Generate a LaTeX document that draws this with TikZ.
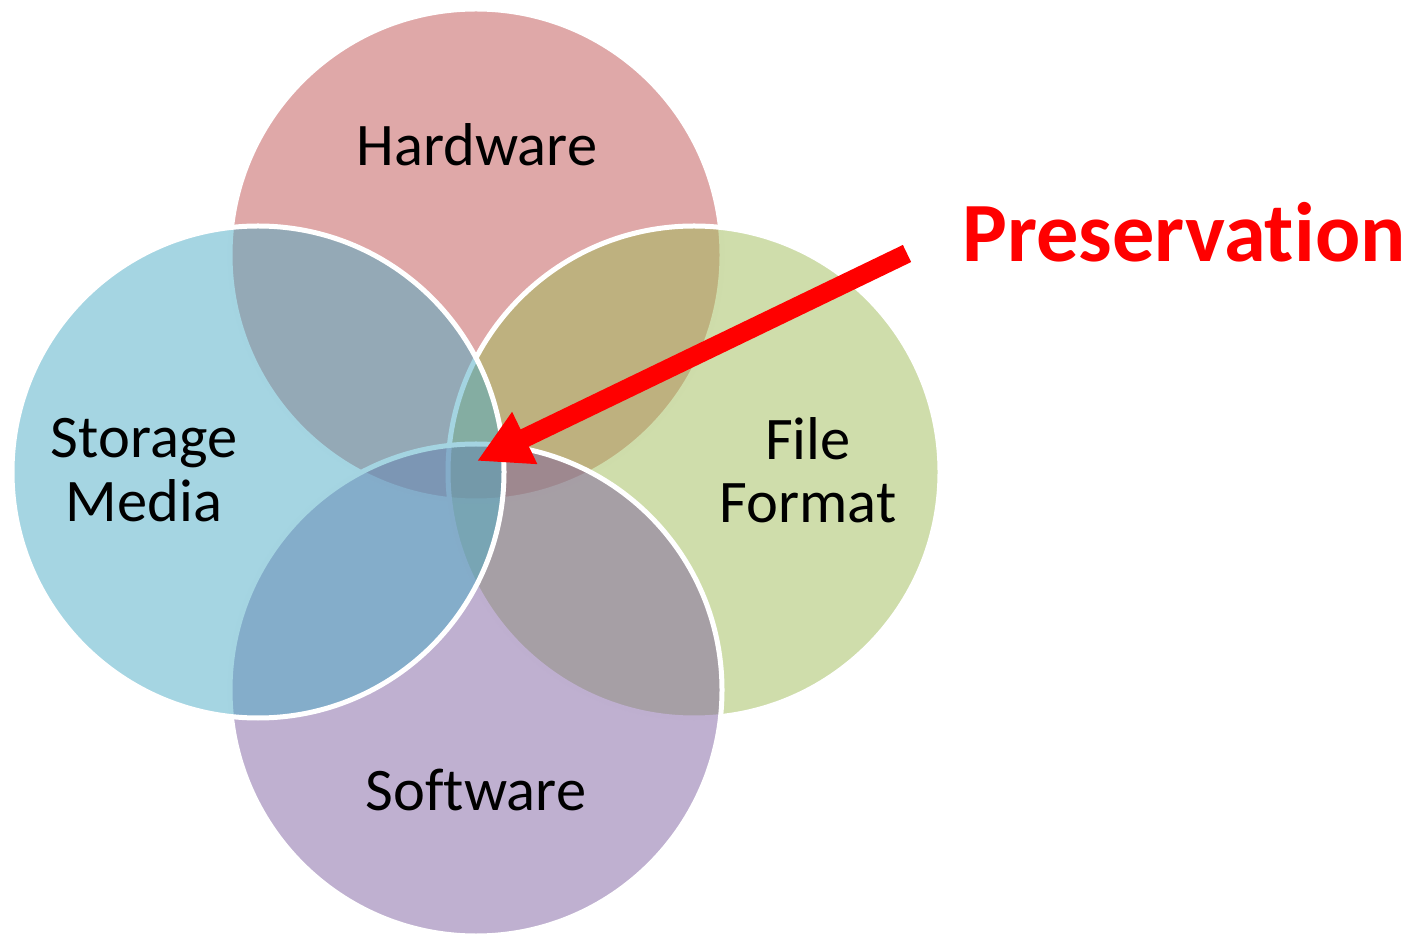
\documentclass[tikz,border=0pt]{standalone}
\usepackage{fontspec}
\setmainfont[Ligatures=NoCommon]{Carlito}
\usepackage{tikz}
\usetikzlibrary{arrows.meta}

\definecolor{hwred}{RGB}{191,81,81}
\definecolor{smblue}{RGB}{75,171,197}
\definecolor{ffgreen}{RGB}{159,187,87}
\definecolor{swpurple}{RGB}{127,97,161}

\tikzset{
  petal/.style={circle,inner sep=0pt,minimum size=9.84cm,draw=white,line width=0.1cm,fill opacity=0.5},
  petallabel/.style={font=\fontsize{34.4}{36}\selectfont,align=center,text=black},
}

\begin{document}
\begin{tikzpicture}
    \useasboundingbox (0,0) rectangle (28.26,18.7);
    % Circles, back to front
    \node[petal,fill=hwred] (hw) at (9.52,13.6) {};
    \node[petal,fill=ffgreen] (ff) at (13.88,9.26) {};
    \node[petal,fill=swpurple] (sw) at (9.52,4.9) {};
    \node[petal,fill=smblue] (sm) at (5.16,9.26) {};
    % Labels
    \node[petallabel,anchor=base] (hwtext) at (9.54,15.38) {Hardware};
    \node[petallabel] (smtext) at (2.88,9.3) {Storage\\Media};
    \node[petallabel] (fftext) at (16.16,9.3) {File\\Format};
    \node[petallabel,anchor=base] (swtext) at (9.52,2.5) {Software};
    \node[anchor=base,text=red,font=\bfseries\fontsize{48}{50}\selectfont] (pres) at (23.68,13.46) {Preservation};
    % Arrow into the common core
    \coordinate (tail) at (18.14,13.63);
    \coordinate (core) at (9.54,9.48);
    \draw[-{Triangle[length=1.06cm,width=1.08cm]},red,line width=0.38cm] (tail) -- (core);
  \end{tikzpicture}
\end{document}
